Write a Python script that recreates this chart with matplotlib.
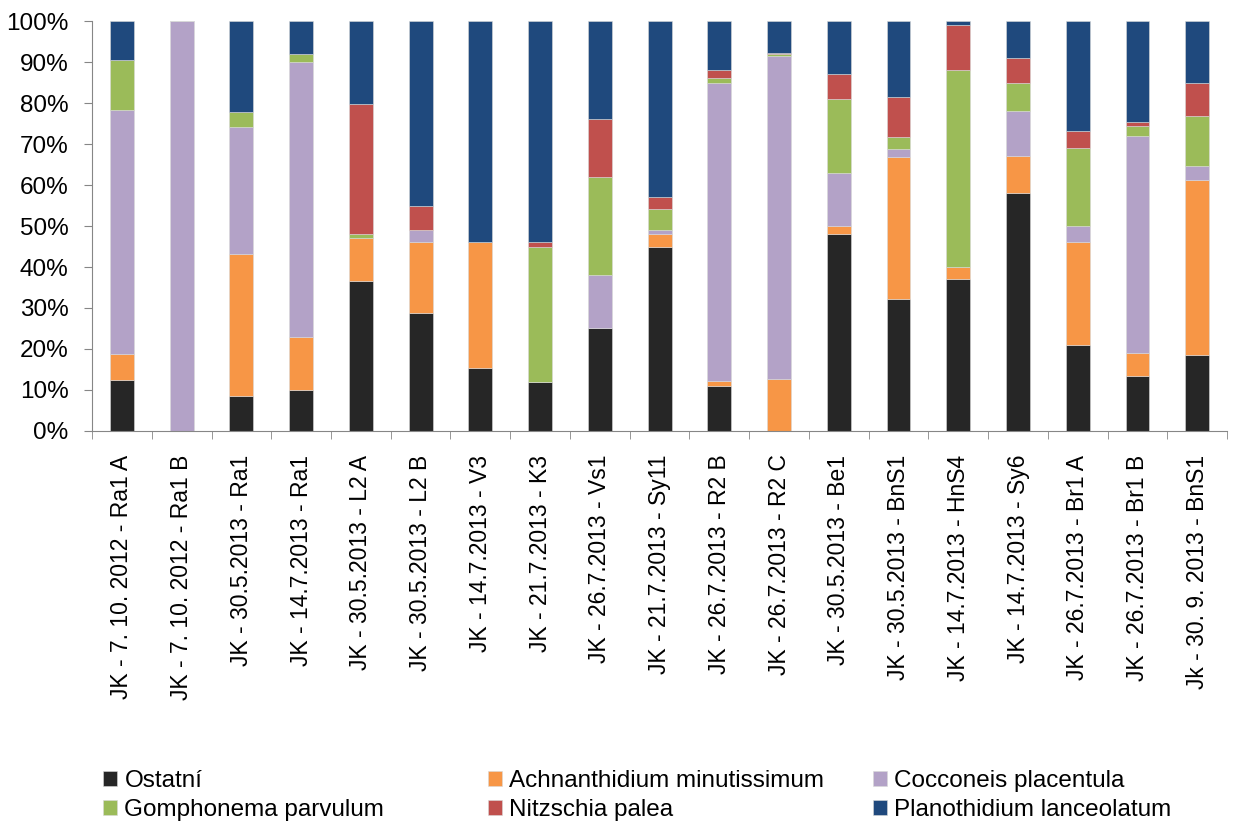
import matplotlib.pyplot as plt
import numpy as np

samples = ['JK - 7. 10. 2012 - Ra1 A', 'JK - 7. 10. 2012 - Ra1 B', 'JK - 30.5.2013 - Ra1',
           'JK - 14.7.2013 - Ra1', 'JK - 30.5.2013 - L2 A', 'JK - 30.5.2013 - L2 B',
           'JK - 14.7.2013 - V3', 'JK - 21.7.2013 - K3', 'JK - 26.7.2013 - Vs1',
           'JK - 21.7.2013 - Sy11', 'JK - 26.7.2013 - R2 B', 'JK - 26.7.2013 - R2 C',
           'JK - 30.5.2013 - Be1', 'JK - 30.5.2013 - BnS1', 'JK - 14.7.2013 - HnS4',
           'JK - 14.7.2013 - Sy6', 'JK - 26.7.2013 - Br1 A', 'JK - 26.7.2013 - Br1 B',
           'Jk - 30. 9. 2013 - BnS1']

# percentages per taxon, one value per sample
ostatni = [12.5, 0, 8.6, 9.9, 36.5, 28.9, 15.3, 12.0, 25.0, 45.0, 10.9, 0, 48.0, 32.3, 37.0, 58.0, 20.9, 13.5, 18.5]
achnanthidium = [6.2, 0, 34.6, 13.1, 10.6, 17.1, 30.9, 0, 0, 3.0, 1.2, 12.8, 2.0, 34.5, 3.0, 9.0, 25.1, 5.6, 42.7]
cocconeis = [59.5, 100, 30.9, 67.0, 0, 3.1, 0, 0, 13.0, 1.0, 72.9, 78.7, 13.0, 1.9, 0, 11.1, 4.0, 52.9, 3.5]
gomphonema = [12.4, 0, 3.8, 2.0, 1.0, 0, 0, 33.0, 24.0, 5.1, 1.0, 0.4, 18.1, 2.9, 48.0, 6.9, 19.1, 2.3, 12.1]
nitzschia = [0, 0, 0, 0, 31.7, 5.9, 0, 1.0, 14.0, 3.0, 2.1, 0.3, 6.0, 9.8, 11.1, 6.1, 4.0, 1.0, 8.2]
planothidium = [9.4, 0, 22.1, 8.0, 20.2, 45.0, 53.8, 54.0, 24.0, 42.9, 11.9, 7.8, 12.9, 18.6, 0.9, 8.9, 26.9, 24.7, 15.0]

series = [('Ostatní', ostatni, '#262626'),
          ('Achnanthidium minutissimum', achnanthidium, '#F79646'),
          ('Cocconeis placentula', cocconeis, '#B3A2C7'),
          ('Gomphonema parvulum', gomphonema, '#9BBB59'),
          ('Nitzschia palea', nitzschia, '#C0504D'),
          ('Planothidium lanceolatum', planothidium, '#1F497D')]

plt.rcParams['font.family'] = ['Liberation Sans', 'DejaVu Sans']

fig = plt.figure(figsize=(12.37, 8.25), dpi=100)
ax = fig.add_axes([0.0744, 0.4776, 0.9176, 0.4969])

x = np.arange(len(samples))
bottom = np.zeros(len(samples))
handles = []
for name, vals, color in series:
    vals = np.array(vals, dtype=float)
    b = ax.bar(x, vals, width=0.4, bottom=bottom, color=color, edgecolor='#d9d9d9',
               linewidth=0.4, label=name)
    handles.append(b)
    bottom += vals

ax.set_xlim(-0.5, len(samples) - 0.5)
ax.set_ylim(0, 100)
ax.set_yticks(np.arange(0, 101, 10))
ax.set_yticklabels(['%d%%' % v for v in range(0, 101, 10)], fontsize=17.5)
ax.set_xticks(x)
ax.set_xticklabels(samples, rotation=90, fontsize=16.5)
ax.set_xticks(np.arange(-0.5, len(samples)), minor=True)
ax.tick_params(axis='x', which='major', length=0, pad=17)
ax.tick_params(axis='x', which='minor', length=6, color='#868686', direction='out')
ax.tick_params(axis='y', length=6, color='#868686', direction='out', pad=11)
for s in ['top', 'right']:
    ax.spines[s].set_visible(False)
for s in ['left', 'bottom']:
    ax.spines[s].set_color('#868686')

# legend laid out in three evenly spaced columns
col_x = [0.0833, 0.3945, 0.7057]
for i, cx in enumerate(col_x):
    hs = [handles[i], handles[i + 3]]
    labs = [series[i][0], series[i + 3][0]]
    fig.legend(hs, labs, loc='upper left', bbox_to_anchor=(cx, 0.0667), frameon=False,
               fontsize=17.5, handlelength=0.58, handleheight=0.55, handletextpad=0.3,
               labelspacing=0.3, borderpad=0, borderaxespad=0)

fig.savefig('out.png', dpi=100)
